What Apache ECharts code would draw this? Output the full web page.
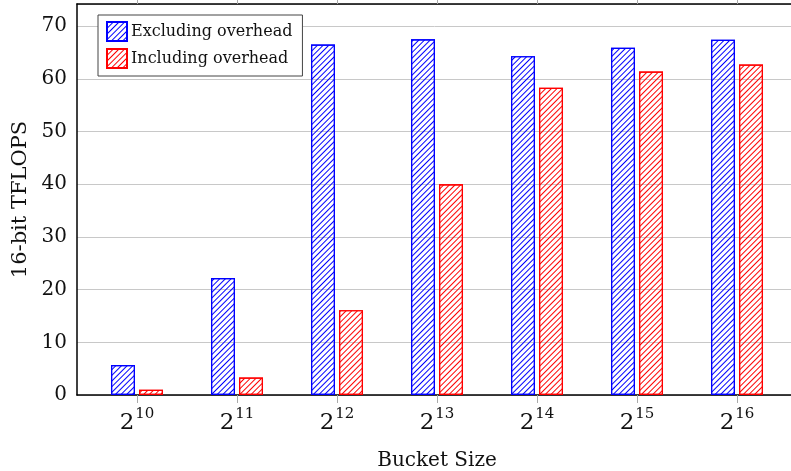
<!DOCTYPE html>
<html>
<head>
<meta charset="utf-8">
<script src="https://cdn.jsdelivr.net/npm/echarts@6/dist/echarts.min.js"></script>
<style>
  html, body { margin: 0; padding: 0; background: #fff; }
  #chart { width: 791px; height: 471px; }
</style>
</head>
<body>
<div id="chart"></div>
<script>
// Bucket sizes are powers of two; exponents drive the tick labels.
const exponents = [10, 11, 12, 13, 14, 15, 16];
const excludingOverhead = [5.7, 22.2, 66.5, 67.5, 64.3, 65.9, 67.4];
const includingOverhead = [1.0, 3.3, 16.1, 40.0, 58.3, 61.4, 62.7];
const yTicks = [0, 10, 20, 30, 40, 50, 60, 70];

const SERIF = '"DejaVu Serif", "Liberation Serif", serif';

// Diagonal "/" hatch drawn as a decal over a transparent fill.
function hatch(color) {
  return {
    symbol: 'rect',
    symbolSize: 1,
    color: color,
    backgroundColor: 'rgba(0,0,0,0)',
    dashArrayX: [1, 0],
    dashArrayY: [1, 3],
    rotation: -Math.PI / 4
  };
}

const toPoints = vals => vals.map((v, i) => [i, v]);
const tickPositions = exponents.map((e, i) => i);

const chart = echarts.init(document.getElementById('chart'), null, { renderer: 'canvas' });

chart.setOption({
  animation: false,
  backgroundColor: '#fff',
  grid: { left: 77, right: -6, top: 4, bottom: 76, containLabel: false, outerBoundsMode: 'none' },
  legend: {
    orient: 'vertical',
    left: 98,
    top: 15,
    padding: [6, 10, 7, 8],
    itemGap: 6,
    itemWidth: 20,
    itemHeight: 19,
    icon: 'rect',
    borderColor: '#444',
    borderWidth: 1,
    backgroundColor: '#fff',
    textStyle: { fontFamily: SERIF, fontSize: 16, color: '#111', padding: [0, 0, 0, -1] },
    data: ['Excluding overhead', 'Including overhead']
  },
  xAxis: [{
    type: 'value',
    min: -0.6,
    max: 6.6,
    interval: 1,
    name: 'Bucket Size',
    nameLocation: 'middle',
    nameGap: 56,
    nameTextStyle: { fontFamily: SERIF, fontSize: 20, color: '#111' },
    axisLine: { show: true, onZero: false, lineStyle: { color: '#000', width: 1.5 } },
    axisTick: { show: true, length: 8, lineStyle: { color: '#aaa' }, customValues: tickPositions },
    splitLine: { show: false },
    axisLabel: {
      margin: 12,
      customValues: tickPositions,
      formatter: v => {
        const e = exponents[Math.round(v)];
        return e === undefined ? '' : '{b|2}{s|' + e + '}';
      },
      rich: {
        b: { fontFamily: SERIF, fontSize: 23, color: '#111', verticalAlign: 'bottom', lineHeight: 28 },
        s: { fontFamily: SERIF, fontSize: 15, color: '#111', verticalAlign: 'top', lineHeight: 28, padding: [0, 0, 0, 1] }
      }
    }
  }, {
    type: 'value',
    position: 'top',
    min: -0.6,
    max: 6.6,
    interval: 1,
    axisLine: { show: true, onZero: false, lineStyle: { color: '#000', width: 1.5 } },
    axisTick: { show: true, length: 4, lineStyle: { color: '#aaa' }, customValues: tickPositions },
    axisLabel: { show: false },
    splitLine: { show: false }
  }],
  yAxis: {
    type: 'value',
    min: 0,
    max: 74.2,
    interval: 10,
    name: '16-bit TFLOPS',
    nameLocation: 'middle',
    nameGap: 46,
    nameRotate: 90,
    nameTextStyle: { fontFamily: SERIF, fontSize: 21, color: '#111' },
    axisLine: { show: true, onZero: false, lineStyle: { color: '#000', width: 1.5 } },
    axisTick: { show: false },
    axisLabel: {
      margin: 10,
      fontFamily: SERIF,
      fontSize: 20,
      color: '#111',
      formatter: v => (yTicks.indexOf(v) >= 0 ? String(v) : '')
    },
    splitLine: { show: true, lineStyle: { color: '#c8c8c8', width: 1 } }
  },
  series: [{
    name: 'Excluding overhead',
    type: 'bar',
    barWidth: 24,
    barGap: '16.7%',
    data: toPoints(excludingOverhead),
    itemStyle: { color: 'rgba(255,255,255,0)', borderColor: '#0000ff', borderWidth: 1.2, decal: hatch('#0000ff') }
  }, {
    name: 'Including overhead',
    type: 'bar',
    barWidth: 24,
    barGap: '16.7%',
    data: toPoints(includingOverhead),
    itemStyle: { color: 'rgba(255,255,255,0)', borderColor: '#ff0000', borderWidth: 1.2, decal: hatch('#ff0000') }
  }]
});
</script>
</body>
</html>
